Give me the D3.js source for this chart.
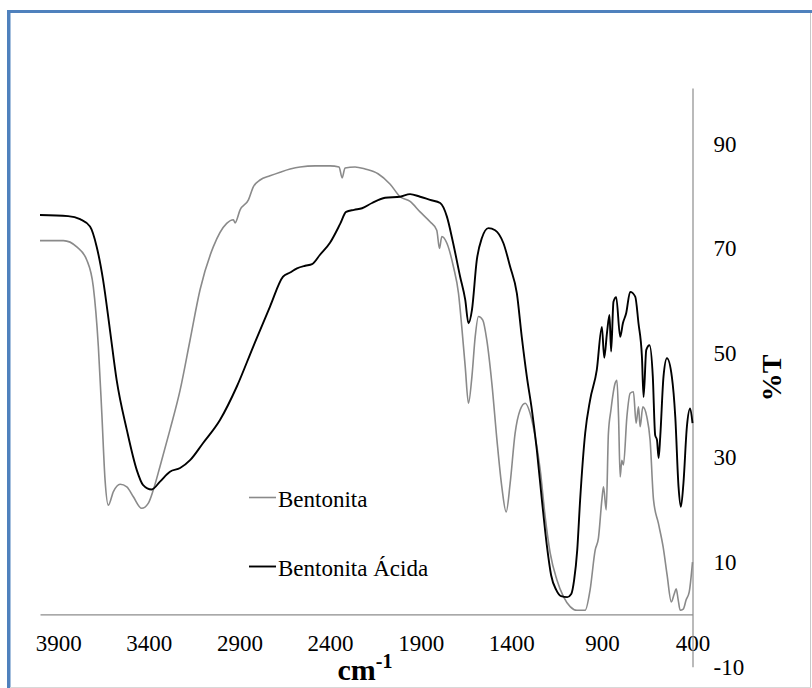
<!DOCTYPE html>
<html>
<head>
<meta charset="utf-8">
<script src="https://cdn.jsdelivr.net/npm/d3@7"></script>
<style>
  body { margin: 0; background: #fff; }
  svg text { font-family: "Liberation Serif", "Times New Roman", Times, serif; fill: #000; }
</style>
</head>
<body>
<div id="chart"></div>
<script>
// tick labels
const xTicks = [3900, 3400, 2900, 2400, 1900, 1400, 900, 400];
const yTicks = [-10, 10, 30, 50, 70, 90];
const seriesNames = ["Bentonita", "Bentonita Ácida"];

// Bentonita (grey) - wavenumber / %T
const bentonitaWn = [4000, 3871, 3797, 3742, 3706, 3678, 3659, 3641, 3623, 3595,
    3558, 3521, 3485, 3439, 3402, 3375, 3338, 3283, 3227, 3172,
    3117, 3044, 2970, 2933, 2924, 2896, 2850, 2823, 2786, 2731,
    2675, 2620, 2565, 2482, 2400, 2350, 2333, 2317, 2262, 2206,
    2135, 2068, 2013, 1958, 1903, 1848, 1811, 1796, 1783, 1755,
    1719, 1691, 1673, 1654, 1636, 1617, 1599, 1581, 1557, 1535,
    1507, 1479, 1452, 1428, 1406, 1379, 1351, 1323, 1296, 1268,
    1240, 1213, 1185, 1148, 1112, 1075, 1038, 992, 965, 937,
    919, 900, 891, 876, 864, 850, 827, 817, 808, 799,
    790, 781, 762, 744, 726, 711, 698, 689, 674, 652,
    634, 615, 588, 562, 540, 517, 501, 490, 479, 468,
    451, 435, 418, 400];
const bentonitaT = [71.5, 71.5, 70.3, 67.8, 62.7, 51.2, 38.5, 25.7, 20.9, 23.5,
    24.9, 24.4, 22.5, 20.3, 21.3, 23.8, 28.3, 35.3, 42.9, 52.5,
    62.1, 70.3, 74.8, 75.5, 74.9, 77.4, 79.3, 81.8, 83.1, 83.9,
    84.6, 85.2, 85.6, 85.8, 85.8, 85.6, 83.5, 85.4, 85.6, 85.2,
    84.3, 82.3, 79.9, 79.0, 77.0, 75.1, 73.5, 70.0, 72.3, 71.0,
    66.5, 61.4, 55.0, 47.4, 40.4, 45.5, 53.1, 57.0, 56.3, 52.5,
    44.2, 33.4, 24.4, 19.6, 25.1, 34.6, 39.1, 40.4, 38.5, 34.0,
    27.6, 18.7, 11.7, 6.6, 3.4, 1.5, 0.8, 0.8, 4.7, 12.3,
    14.6, 21.9, 24.4, 20.0, 34.6, 39.1, 44.2, 44.8, 37.8, 26.3,
    29.5, 28.6, 37.8, 42.3, 42.6, 36.6, 39.7, 35.9, 39.7, 37.8,
    33.4, 21.9, 17.4, 12.9, 7.5, 2.4, 3.9, 4.9, 2.8, 0.8,
    1.0, 2.8, 4.3, 10.0];

// Bentonita Ácida (black)
const acidaWn = [4000, 3845, 3779, 3724, 3687, 3652, 3614, 3577, 3521, 3466,
    3432, 3384, 3338, 3283, 3227, 3172, 3100, 3007, 2914, 2824,
    2731, 2659, 2620, 2582, 2537, 2499, 2455, 2400, 2344, 2311,
    2267, 2223, 2168, 2096, 2013, 1958, 1903, 1848, 1792, 1755,
    1721, 1682, 1654, 1636, 1617, 1590, 1562, 1526, 1489, 1443,
    1406, 1369, 1342, 1314, 1286, 1259, 1231, 1204, 1180, 1152,
    1125, 1091, 1069, 1053, 1036, 1020, 992, 965, 928, 900,
    887, 872, 858, 849, 836, 821, 799, 784, 766, 744,
    716, 698, 679, 670, 655, 637, 619, 606, 596, 587,
    578, 560, 541, 514, 495, 477, 464, 450, 431, 413,
    400];
const acidaT = [76.4, 76.2, 75.6, 74.2, 70.3, 64.0, 54.4, 44.8, 35.3, 27.6,
    24.8, 23.9, 25.4, 27.3, 28.0, 29.5, 32.8, 37.2, 43.6, 51.2,
    58.9, 64.6, 65.4, 66.2, 66.7, 67.0, 68.8, 71.1, 74.7, 77.0,
    77.4, 77.7, 78.7, 79.7, 79.9, 80.4, 79.9, 79.3, 78.7, 76.1,
    71.1, 64.6, 60.2, 55.7, 58.2, 67.8, 72.0, 73.9, 73.5, 71.0,
    66.5, 61.4, 53.1, 45.5, 39.1, 31.5, 21.9, 13.3, 7.5, 4.7,
    3.5, 3.3, 3.9, 6.6, 12.3, 21.9, 34.7, 41.0, 46.8, 55.0,
    49.1, 53.8, 57.3, 50.3, 59.8, 60.7, 53.1, 55.7, 57.6, 61.7,
    60.8, 55.7, 49.3, 41.6, 50.6, 51.5, 45.5, 34.3, 33.4, 29.9,
    34.0, 45.5, 49.0, 45.5, 37.8, 24.4, 20.6, 25.1, 35.9, 39.4,
    36.6];

const series = [
    { name: seriesNames[0], wn: bentonitaWn, t: bentonitaT, color: "#8a8a8a", w: 1.6 },
    { name: seriesNames[1], wn: acidaWn, t: acidaT, color: "#000", w: 1.9 }
];

let width = 812, height = 688;

let svg = d3.select("#chart").append("svg")
    .attr("width", width)
    .attr("height", height);

// frame (blue top/left, thin grey right/bottom)
svg.append("line").attr("x1", 7).attr("x2", 812).attr("y1", 11.5).attr("y2", 11.5)
    .attr("stroke", "#4f81bd").attr("stroke-width", 3);
svg.append("line").attr("x1", 8.75).attr("x2", 8.75).attr("y1", 10).attr("y2", 688)
    .attr("stroke", "#4f81bd").attr("stroke-width", 3.5);
svg.append("line").attr("x1", 810.5).attr("x2", 810.5).attr("y1", 13).attr("y2", 688)
    .attr("stroke", "#c8c8c8").attr("stroke-width", 1);
svg.append("line").attr("x1", 10).attr("x2", 811).attr("y1", 687.5).attr("y2", 687.5)
    .attr("stroke", "#d8d8d8").attr("stroke-width", 1);

let x = d3.scaleLinear().domain([4000, 400]).range([40, 692.5]);
let y = d3.scaleLinear().domain([-10, 100.7]).range([666.7, 88]);

// x axis crossing at 0
let xAxis = svg.append("g")
    .attr("transform", `translate(0, ${y(0)})`)
    .call(d3.axisBottom(x).tickValues(xTicks).tickSize(0).tickPadding(20).tickFormat(d => String(d)));

// y axis on the right, at 400 cm-1
let yAxis = svg.append("g")
    .attr("transform", `translate(${x(400)}, 0)`)
    .call(d3.axisRight(y).tickValues(yTicks).tickSize(0).tickPadding(21).tickFormat(d => String(d)));

[xAxis, yAxis].forEach(g => {
    g.attr("font-family", null);
    g.select(".domain").attr("stroke", "#8c8c8c").attr("stroke-width", 1.2);
    g.selectAll("text")
        .attr("font-size", 23)
        .attr("fill", "#000");
});

let line = d3.line()
    .x(d => x(d[0]))
    .y(d => y(d[1]))
    .curve(d3.curveMonotoneX);

svg.append("g").selectAll("path")
    .data(series)
    .enter().append("path")
    .attr("d", s => line(s.wn.map((w, i) => [w, s.t[i]])))
    .attr("fill", "none")
    .attr("stroke", s => s.color)
    .attr("stroke-width", s => s.w)
    .attr("stroke-linejoin", "round");

// axis titles
let xt = svg.append("text")
    .attr("x", 365)
    .attr("y", 680)
    .attr("text-anchor", "middle")
    .attr("font-weight", "bold")
    .attr("font-size", 30);
xt.append("tspan").text("cm");
xt.append("tspan").text("-1").attr("font-size", 20).attr("dy", -12);

svg.append("text")
    .attr("transform", "translate(771, 378) rotate(-90)")
    .attr("text-anchor", "middle")
    .attr("dominant-baseline", "central")
    .attr("font-weight", "bold")
    .attr("font-size", 28)
    .text("%T");

// legend
const legendY = [497.5, 566.5];
const groups = svg.append("g")
    .selectAll(".legend")
    .data(series);

const groupsEnter = groups.enter().append("g")
    .attr("class", "legend")
    .attr("transform", (d, i) => `translate(249, ${legendY[i]})`);

groupsEnter.append("line")
    .attr("x1", 0).attr("x2", 27)
    .attr("stroke", d => d.color)
    .attr("stroke-width", d => d.w);

groupsEnter.append("text")
    .attr("x", 29)
    .attr("y", 9.3)
    .attr("font-size", 23)
    .text(d => d.name);
</script>
</body>
</html>
